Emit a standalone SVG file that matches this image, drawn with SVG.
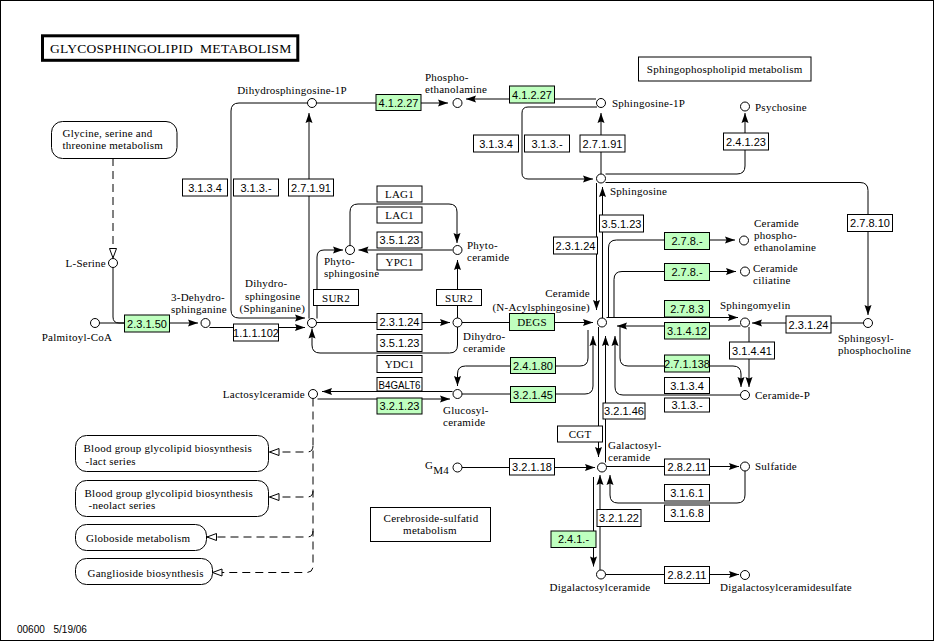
<svg xmlns="http://www.w3.org/2000/svg" width="934" height="642" viewBox="0 0 934 642">
<style>
.ln{fill:none;stroke:#000;stroke-width:1}
.ar{marker-end:url(#arr)}
.dash{stroke-dasharray:8 5;marker-end:url(#open)}
.cpd{fill:#fff;stroke:#000;stroke-width:1}
.box{fill:#fff;stroke:#000;stroke-width:1}
.gr{fill:#bfffbf}
text{font-family:"Liberation Serif","Times New Roman",serif;font-size:11px;letter-spacing:0.25px;fill:#000}
.n{font-family:"Liberation Sans",Arial,sans-serif;font-size:11px;letter-spacing:0;text-anchor:middle}
.gn{text-anchor:middle}
.m{text-anchor:middle}
.e{text-anchor:end}
.ft{font-family:"Liberation Sans",Arial,sans-serif;font-size:10px;letter-spacing:0}
</style>
<defs>
<marker id="arr" markerUnits="userSpaceOnUse" markerWidth="10" markerHeight="7" refX="10" refY="3.5" orient="auto" overflow="visible">
<path d="M0,0 L10,3.5 L0,7 L1.5,3.5 Z" fill="#000"/>
</marker>
<marker id="open" markerUnits="userSpaceOnUse" markerWidth="11" markerHeight="9" refX="10" refY="4" orient="auto" overflow="visible">
<path d="M0.5,0.5 L10,4 L0.5,7.5 Z" fill="#fff" stroke="#000" stroke-width="1"/>
</marker>
</defs>
<rect x="0.5" y="0.5" width="933" height="640" fill="#fff" stroke="#000" stroke-width="1"/>

<g id="connectors">
<path class="ln ar" d="M317,103 H448"/>
<path class="ln ar" d="M596,99 H466"/>
<path class="ln ar" d="M597,107 H528 Q522,107 522,113 V173 Q522,179 528,179 H593"/>
<path class="ln ar" d="M601,174 V113"/>
<path class="ln ar" d="M307.5,103 H239 Q231,103 231,111 V310 Q231,318 239,318 H305"/>
<path class="ln ar" d="M309,318.5 V113"/>
<path class="ln dash" d="M113,158 V258"/>
<path class="ln" d="M113,267.5 V317 Q113,323 119,323 H124.5"/>
<path class="ln ar" d="M99.5,323 H198"/>
<path class="ln ar" d="M209.5,327.5 H305"/>
<path class="ln ar" d="M317,318.5 V257 Q317,250 324,250 H343"/>
<path class="ln ar" d="M452.5,250 H358.5"/>
<path class="ln ar" d="M350,245.5 V212 Q350,204 358,204 H449 Q457,204 457,212 V243"/>
<path class="ln ar" d="M316.5,322.5 H450"/>
<path class="ln ar" d="M457.5,327 V345 Q457.5,353 449.5,353 H320 Q312,353 312,345 V328.5"/>
<path class="ln ar" d="M457.5,318 V260"/>
<path class="ln ar" d="M462,322.5 H593"/>
<path class="ln ar" d="M596.5,183 V310"/>
<path class="ln ar" d="M602.5,318 V187"/>
<path class="ln ar" d="M608.5,318 V248 Q608.5,240 616.5,240 H735"/>
<path class="ln ar" d="M614,318 V279.5 Q614,271.5 622,271.5 H736"/>
<path class="ln ar" d="M606.5,317.5 H738"/>
<path class="ln ar" d="M740.5,326 H617"/>
<path class="ln ar" d="M863.5,323 H752"/>
<path class="ln ar" d="M605.5,182.5 H860 Q868,182.5 868,190.5 V315"/>
<path class="ln ar" d="M605.5,174 H737 Q745,174 745,166 V113"/>
<path class="ln ar" d="M749,327 V387"/>
<path class="ln ar" d="M620,327 V358 Q620,366 628,366 H733 Q741,366 741,374 V387"/>
<path class="ln ar" d="M740.5,395 H623 Q615,395 615,387 V336"/>
<path class="ln ar" d="M588,330 V358 Q588,366 580,366 H465.5 Q457.5,366 457.5,374 V386"/>
<path class="ln ar" d="M462,394 H585 Q593,394 593,386 V336"/>
<path class="ln ar" d="M452.5,391.5 H322"/>
<path class="ln ar" d="M317.5,399 H450"/>
<path class="ln ar" d="M598.5,327 V457"/>
<path class="ln ar" d="M605.5,462.5 V336"/>
<path class="ln ar" d="M462,467.5 H595"/>
<path class="ln ar" d="M606.5,466.5 H739"/>
<path class="ln ar" d="M745,471 V495 Q745,503 737,503 H618 Q610,503 610,495 V475"/>
<path class="ln ar" d="M593.5,477 V566.5"/>
<path class="ln ar" d="M600,570 V475"/>
<path class="ln ar" d="M605.5,574.5 H739"/>
<path class="ln dash" d="M313,398.5 V566 Q313,572.5 306.5,572.5 H212.5"/>
<path class="ln dash" d="M313,446 Q313,452 307,452 H269.5"/>
<path class="ln dash" d="M313,491 Q313,497 307,497 H269.5"/>
<path class="ln dash" d="M313,531 Q313,537 307,537 H207"/>
</g>

<g id="title"><rect x="42.5" y="35.8" width="255.3" height="24.5" fill="#fff" stroke="#000" stroke-width="3"/><text x="50" y="53" style="font-size:13px" textLength="143" lengthAdjust="spacingAndGlyphs">GLYCOSPHINGOLIPID</text><text x="200" y="53" style="font-size:13px" textLength="91.5" lengthAdjust="spacingAndGlyphs">METABOLISM</text></g>

<g id="map-sphingophospholipid"><rect class="box" x="638.5" y="57" width="172.5" height="24"/><text x="724.7" y="73" class="m">Sphingophospholipid metabolism</text></g>
<g id="map-glycine"><rect class="box" x="51.5" y="121.5" width="125.5" height="37" rx="11"/><text x="62.5" y="137">Glycine, serine and</text><text x="62.5" y="149">threonine metabolism</text></g>
<g id="map-lact"><rect class="box" x="75.5" y="435.5" width="193" height="36" rx="11"/><text x="83.5" y="452">Blood group glycolipid biosynthesis</text><text x="85.5" y="464.5">-lact series</text></g>
<g id="map-neolact"><rect class="box" x="75.5" y="480.5" width="193" height="36" rx="11"/><text x="84.5" y="497">Blood group glycolipid biosynthesis</text><text x="88.5" y="509">-neolact series</text></g>
<g id="map-globoside"><rect class="box" x="75.5" y="524.5" width="131" height="26" rx="11"/><text x="86" y="542">Globoside metabolism</text></g>
<g id="map-ganglioside"><rect class="box" x="75.5" y="558.5" width="137" height="26" rx="11"/><text x="87.5" y="576.5">Ganglioside biosynthesis</text></g>
<g id="map-cerebroside"><rect class="box" x="370.5" y="507.5" width="120" height="34"/><text x="431" y="522" class="m">Cerebroside-sulfatid</text><text x="430" y="534" class="m">metabolism</text></g>

<g id="c-dhs1p"><circle class="cpd" cx="312" cy="103" r="4.5"/><text x="292" y="94" class="m">Dihydrosphingosine-1P</text></g>
<g id="c-pea"><circle class="cpd" cx="457.5" cy="103" r="4.5"/><text x="425" y="81">Phospho-</text><text x="425" y="93">ethanolamine</text></g>
<g id="c-s1p"><circle class="cpd" cx="601" cy="103" r="4.5"/><text x="612" y="107">Sphingosine-1P</text></g>
<g id="c-psy"><circle class="cpd" cx="745" cy="106.5" r="4.5"/><text x="755" y="110.5">Psychosine</text></g>
<g id="c-sph"><circle class="cpd" cx="601" cy="178.5" r="4.5"/><text x="610" y="195">Sphingosine</text></g>
<g id="c-lser"><circle class="cpd" cx="113" cy="263" r="4.5"/><text x="106" y="267" class="e">L-Serine</text></g>
<g id="c-palcoa"><circle class="cpd" cx="95" cy="323" r="4.5"/><text x="77" y="341" class="m">Palmitoyl-CoA</text></g>
<g id="c-dhsa"><circle class="cpd" cx="205.5" cy="323" r="4.5"/><text x="171" y="300.5">3-Dehydro-</text><text x="171" y="313">sphinganine</text></g>
<g id="c-dhs"><circle class="cpd" cx="312" cy="323" r="4.5"/><text x="245" y="287">Dihydro-</text><text x="245" y="299.5">sphingosine</text><text x="239.5" y="312">(Sphinganine)</text></g>
<g id="c-phytos"><circle class="cpd" cx="350" cy="250" r="4.5"/><text x="324" y="264.5">Phyto-</text><text x="324" y="277">sphingosine</text></g>
<g id="c-phytoc"><circle class="cpd" cx="457.5" cy="250" r="4.5"/><text x="467" y="248.5">Phyto-</text><text x="467" y="260.5">ceramide</text></g>
<g id="c-dhc"><circle class="cpd" cx="457.5" cy="322.5" r="4.5"/><text x="463" y="339.5">Dihydro-</text><text x="463" y="351.5">ceramide</text></g>
<g id="c-cer"><circle class="cpd" cx="602" cy="322.5" r="4.5"/><text x="590" y="296.5" class="e">Ceramide</text><text x="590" y="310.5" class="e">(N-Acylsphingosine)</text></g>
<g id="c-cerpe"><circle class="cpd" cx="744" cy="240.5" r="4.5"/><text x="754" y="226.5">Ceramide</text><text x="754" y="238.5">phospho-</text><text x="754" y="250.5">ethanolamine</text></g>
<g id="c-cercil"><circle class="cpd" cx="745" cy="271.5" r="4.5"/><text x="753" y="272">Ceramide</text><text x="753" y="284">ciliatine</text></g>
<g id="c-sm"><circle class="cpd" cx="745" cy="322.5" r="4.5"/><text x="720" y="309">Sphingomyelin</text></g>
<g id="c-spc"><circle class="cpd" cx="868" cy="323" r="4.5"/><text x="838" y="342">Sphingosyl-</text><text x="838" y="354">phosphocholine</text></g>
<g id="c-cerp"><circle class="cpd" cx="745" cy="395" r="4.5"/><text x="755" y="399">Ceramide-P</text></g>
<g id="c-laccer"><circle class="cpd" cx="313" cy="394" r="4.5"/><text x="305" y="398" class="e">Lactosylceramide</text></g>
<g id="c-glccer"><circle class="cpd" cx="457.5" cy="394" r="4.5"/><text x="443" y="413.5">Glucosyl-</text><text x="443" y="425.5">ceramide</text></g>
<g id="c-gm4"><circle class="cpd" cx="457.5" cy="467.5" r="4.5"/><text x="425" y="469" style="font-size:11px">G<tspan dy="5">M4</tspan></text></g>
<g id="c-galcer"><circle class="cpd" cx="602" cy="467.5" r="4.5"/><text x="608" y="448.5">Galactosyl-</text><text x="608" y="460.5">ceramide</text></g>
<g id="c-sulf"><circle class="cpd" cx="745" cy="466.5" r="4.5"/><text x="755" y="470">Sulfatide</text></g>
<g id="c-digal"><circle class="cpd" cx="601" cy="574.5" r="4.5"/><text x="600" y="591" class="m">Digalactosylceramide</text></g>
<g id="c-digals"><circle class="cpd" cx="745" cy="575" r="4.5"/><text x="720" y="590.5">Digalactosylceramidesulfate</text></g>

<g id="e1"><rect class="box gr" x="376" y="94.5" width="45" height="16"/><text class="n" x="398.5" y="106.5">4.1.2.27</text></g>
<g id="e2"><rect class="box gr" x="509.5" y="86" width="45" height="17"/><text class="n" x="532" y="98.5">4.1.2.27</text></g>
<g id="e3"><rect class="box" x="473.5" y="135" width="45" height="17"/><text class="n" x="496" y="147.5">3.1.3.4</text></g>
<g id="e4"><rect class="box" x="524.5" y="135" width="45" height="17"/><text class="n" x="547" y="147.5">3.1.3.-</text></g>
<g id="e5"><rect class="box" x="580" y="135" width="45" height="17"/><text class="n" x="602.5" y="147.5">2.7.1.91</text></g>
<g id="e6"><rect class="box" x="723.5" y="133" width="45" height="17"/><text class="n" x="746" y="145.5">2.4.1.23</text></g>
<g id="e7"><rect class="box" x="182.5" y="179" width="45" height="17"/><text class="n" x="205" y="191.5">3.1.3.4</text></g>
<g id="e8"><rect class="box" x="233.5" y="179" width="45" height="17"/><text class="n" x="256" y="191.5">3.1.3.-</text></g>
<g id="e9"><rect class="box" x="288.5" y="179" width="45" height="17"/><text class="n" x="311" y="191.5">2.7.1.91</text></g>
<g id="e10"><rect class="box" x="377" y="186" width="45" height="16"/><text class="gn" x="399.5" y="198">LAG1</text></g>
<g id="e11"><rect class="box" x="377" y="207" width="45" height="16"/><text class="gn" x="399.5" y="219">LAC1</text></g>
<g id="e12"><rect class="box" x="377" y="232" width="45" height="16"/><text class="n" x="399.5" y="244">3.5.1.23</text></g>
<g id="e13"><rect class="box" x="377" y="254" width="45" height="16"/><text class="gn" x="399.5" y="266">YPC1</text></g>
<g id="e14"><rect class="box" x="313.5" y="289.5" width="45" height="16"/><text class="gn" x="336" y="301.5">SUR2</text></g>
<g id="e15"><rect class="box" x="436.5" y="289.5" width="45" height="16"/><text class="gn" x="459" y="301.5">SUR2</text></g>
<g id="e16"><rect class="box" x="553.5" y="237" width="44" height="17"/><text class="n" x="575.5" y="249.5">2.3.1.24</text></g>
<g id="e17"><rect class="box" x="599.5" y="215" width="44" height="17"/><text class="n" x="621.5" y="227.5">3.5.1.23</text></g>
<g id="e18"><rect class="box" x="847.5" y="214.5" width="45" height="17"/><text class="n" x="870" y="227">2.7.8.10</text></g>
<g id="e19"><rect class="box gr" x="664.5" y="232.5" width="45" height="17"/><text class="n" x="687" y="245">2.7.8.-</text></g>
<g id="e20"><rect class="box gr" x="664.5" y="263.5" width="45" height="17"/><text class="n" x="687" y="276">2.7.8.-</text></g>
<g id="e21"><rect class="box gr" x="124.5" y="315" width="45" height="17"/><text class="n" x="147" y="327.5">2.3.1.50</text></g>
<g id="e22"><rect class="box" x="233.5" y="324" width="45" height="17"/><text class="n" x="256" y="336.5">1.1.1.102</text></g>
<g id="e23"><rect class="box" x="377" y="313.5" width="45" height="16"/><text class="n" x="399.5" y="325.5">2.3.1.24</text></g>
<g id="e24"><rect class="box" x="377" y="334.5" width="45" height="17"/><text class="n" x="399.5" y="347">3.5.1.23</text></g>
<g id="e25"><rect class="box" x="377" y="355.5" width="45" height="17"/><text class="gn" x="399.5" y="368">YDC1</text></g>
<g id="e26"><rect class="box gr" x="509.5" y="313.5" width="45" height="17"/><text class="gn" x="532" y="326">DEGS</text></g>
<g id="e27"><rect class="box gr" x="664.5" y="300.5" width="45" height="16.5"/><text class="n" x="687" y="312.8">2.7.8.3</text></g>
<g id="e28"><rect class="box gr" x="664.5" y="322.5" width="45" height="16.5"/><text class="n" x="687" y="334.8">3.1.4.12</text></g>
<g id="e29"><rect class="box" x="786" y="316" width="45" height="17"/><text class="n" x="808.5" y="328.5">2.3.1.24</text></g>
<g id="e30"><rect class="box" x="729.5" y="342" width="45" height="17"/><text class="n" x="752" y="354.5">3.1.4.41</text></g>
<g id="e31"><rect class="box gr" x="664.5" y="355" width="45" height="17"/><text class="n" x="687" y="367.5">2.7.1.138</text></g>
<g id="e32"><rect class="box" x="664.5" y="377.5" width="45" height="16"/><text class="n" x="687" y="389.5">3.1.3.4</text></g>
<g id="e33"><rect class="box" x="664.5" y="398" width="45" height="14"/><text class="n" x="687" y="409">3.1.3.-</text></g>
<g id="e34"><rect class="box gr" x="510.5" y="357.5" width="45" height="16"/><text class="n" x="533" y="369.5">2.4.1.80</text></g>
<g id="e35"><rect class="box gr" x="510.5" y="386.5" width="45" height="16"/><text class="n" x="533" y="398.5">3.2.1.45</text></g>
<g id="e36"><rect class="box" x="377" y="377.5" width="45" height="13.5"/><text class="n" x="399.5" y="388.5" textLength="42" lengthAdjust="spacingAndGlyphs">B4GALT6</text></g>
<g id="e37"><rect class="box gr" x="377" y="398" width="45" height="16"/><text class="n" x="399.5" y="410">3.2.1.23</text></g>
<g id="e38"><rect class="box" x="557.5" y="426" width="45" height="16"/><text class="gn" x="580" y="438">CGT</text></g>
<g id="e39"><rect class="box" x="603" y="403" width="42" height="16"/><text class="n" x="624" y="415">3.2.1.46</text></g>
<g id="e40"><rect class="box" x="509.5" y="458.5" width="45" height="16.5"/><text class="n" x="532" y="470.8">3.2.1.18</text></g>
<g id="e41"><rect class="box" x="664.5" y="459" width="45" height="16"/><text class="n" x="687" y="471">2.8.2.11</text></g>
<g id="e42"><rect class="box" x="664.5" y="484.5" width="45" height="16.5"/><text class="n" x="687" y="496.8">3.1.6.1</text></g>
<g id="e43"><rect class="box" x="664.5" y="505" width="45" height="16.5"/><text class="n" x="687" y="517.3">3.1.6.8</text></g>
<g id="e44"><rect class="box" x="597" y="509.5" width="44" height="17"/><text class="n" x="619" y="522">3.2.1.22</text></g>
<g id="e45"><rect class="box gr" x="551" y="531" width="45" height="16.5"/><text class="n" x="573.5" y="543.3">2.4.1.-</text></g>
<g id="e46"><rect class="box" x="664.5" y="566.5" width="45" height="17"/><text class="n" x="687" y="579">2.8.2.11</text></g>

<g id="footer"><text class="ft" x="17" y="633">00600</text><text class="ft" x="53.5" y="633">5/19/06</text></g>
</svg>
